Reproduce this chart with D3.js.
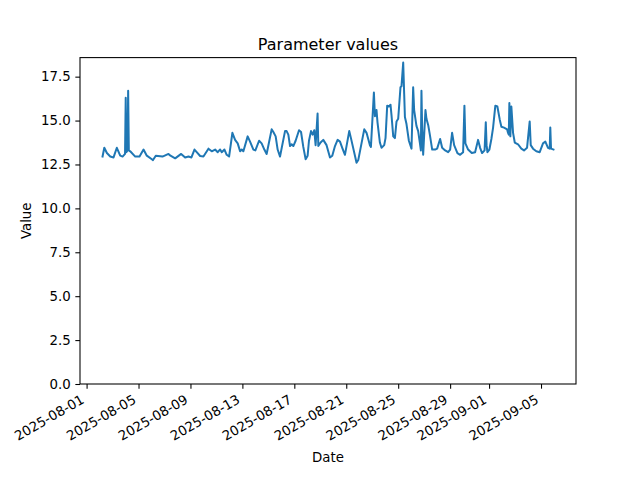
<!DOCTYPE html>
<html><head><meta charset="utf-8">
<script src="https://cdn.jsdelivr.net/npm/d3@7/dist/d3.min.js"></script>
<style>
html,body{margin:0;padding:0;background:#fff;}
svg text{font-family:"DejaVu Sans",sans-serif;fill:#000;}
</style></head>
<body><svg id="chart" width="640" height="480"></svg>
<script>
const timestamps = [
"2025-08-02 05:30","2025-08-02 08:45","2025-08-02 13:30","2025-08-02 19:45","2025-08-03 01:50","2025-08-03 07:55","2025-08-03 14:10","2025-08-03 18:30","2025-08-03 23:05",
"2025-08-04 00:20","2025-08-04 01:30","2025-08-04 03:40","2025-08-04 04:50","2025-08-04 06:05","2025-08-04 08:40","2025-08-04 17:55","2025-08-05 01:50","2025-08-05 09:15","2025-08-05 15:20",
"2025-08-06 00:35","2025-08-06 02:45","2025-08-06 07:55","2025-08-06 20:20","2025-08-07 07:25","2025-08-07 11:05","2025-08-07 19:45","2025-08-08 06:50","2025-08-08 14:10","2025-08-08 20:20",
"2025-08-09 01:50","2025-08-09 07:25","2025-08-09 11:35","2025-08-09 17:55","2025-08-10 00:00","2025-08-10 09:15","2025-08-10 15:20","2025-08-10 21:35","2025-08-11 02:25","2025-08-11 06:50",
"2025-08-11 09:50","2025-08-11 14:50","2025-08-11 19:00","2025-08-11 23:25","2025-08-12 05:30","2025-08-12 10:30","2025-08-12 15:20","2025-08-12 19:45","2025-08-12 22:45","2025-08-13 01:50",
"2025-08-13 09:45","2025-08-13 14:10","2025-08-13 20:20","2025-08-14 00:00","2025-08-14 06:50","2025-08-14 11:35","2025-08-14 16:35","2025-08-14 20:50","2025-08-15 06:05","2025-08-15 09:15",
"2025-08-15 13:30","2025-08-15 17:10","2025-08-15 21:35","2025-08-16 06:50","2025-08-16 09:45","2025-08-16 12:55","2025-08-16 16:05","2025-08-16 19:00","2025-08-16 22:10","2025-08-17 02:25",
"2025-08-17 08:40","2025-08-17 12:25","2025-08-17 16:35","2025-08-17 20:55","2025-08-18 00:35","2025-08-18 03:05","2025-08-18 06:50","2025-08-18 09:50","2025-08-18 12:55","2025-08-18 15:20",
"2025-08-18 19:00","2025-08-18 20:20","2025-08-19 00:35","2025-08-19 05:30","2025-08-19 11:35","2025-08-19 17:55","2025-08-19 22:10","2025-08-20 03:10","2025-08-20 08:00","2025-08-20 12:25",
"2025-08-20 16:35","2025-08-20 21:35","2025-08-21 05:30","2025-08-21 08:40","2025-08-21 19:00","2025-08-21 22:10","2025-08-22 09:15","2025-08-22 13:30","2025-08-22 19:45","2025-08-22 21:35",
"2025-08-23 03:05","2025-08-23 05:00","2025-08-23 07:55","2025-08-23 09:45","2025-08-23 14:10","2025-08-23 17:10","2025-08-23 22:10","2025-08-24 00:35","2025-08-24 03:40","2025-08-24 06:50",
"2025-08-24 09:50","2025-08-24 11:40","2025-08-24 14:50","2025-08-24 17:55","2025-08-24 20:55","2025-08-25 00:00","2025-08-25 04:15","2025-08-25 06:05","2025-08-25 09:15","2025-08-25 11:05",
"2025-08-25 12:25","2025-08-25 15:20","2025-08-25 19:45","2025-08-26 00:35","2025-08-26 03:40","2025-08-26 05:30","2025-08-26 09:45","2025-08-26 12:55","2025-08-26 16:00","2025-08-26 17:55",
"2025-08-26 19:00","2025-08-26 20:20","2025-08-26 22:10","2025-08-27 02:25","2025-08-27 04:15","2025-08-27 07:25","2025-08-27 10:30","2025-08-27 14:50","2025-08-27 20:20","2025-08-28 00:00",
"2025-08-28 05:30","2025-08-28 09:15","2025-08-28 14:50","2025-08-28 20:20","2025-08-29 00:00","2025-08-29 03:40","2025-08-29 07:25","2025-08-29 13:30","2025-08-29 18:30","2025-08-30 00:00",
"2025-08-30 02:25","2025-08-30 04:15","2025-08-30 09:15","2025-08-30 16:00","2025-08-30 22:10","2025-08-31 03:40","2025-08-31 07:25","2025-08-31 11:05","2025-08-31 15:40","2025-08-31 17:55",
"2025-08-31 19:25","2025-08-31 20:55","2025-09-01 00:35","2025-09-01 04:15","2025-09-01 07:25","2025-09-01 11:35","2025-09-01 15:20","2025-09-01 19:45","2025-09-01 22:45","2025-09-02 03:40",
"2025-09-02 09:15","2025-09-02 11:05","2025-09-02 12:25","2025-09-02 13:30","2025-09-02 15:20","2025-09-02 17:10","2025-09-02 20:20","2025-09-02 23:30","2025-09-03 05:30","2025-09-03 11:35",
"2025-09-03 16:35","2025-09-03 22:10","2025-09-04 03:05","2025-09-04 05:00","2025-09-04 09:15","2025-09-04 15:20","2025-09-04 21:35","2025-09-05 03:40","2025-09-05 08:00","2025-09-05 12:55",
"2025-09-05 16:05","2025-09-05 17:10","2025-09-05 18:30","2025-09-05 23:00"
];
const values = [
12.95,13.45,13.15,12.95,12.9,13.45,13.0,12.95,13.1,
16.3,13.2,13.3,16.7,13.3,13.25,12.95,12.95,13.35,13.0,
12.8,12.75,13.0,12.95,13.1,13.0,12.85,13.1,12.9,12.95,
12.9,13.35,13.2,12.98,12.95,13.4,13.25,13.35,13.2,13.35,
13.2,13.35,13.05,12.95,14.3,13.9,13.7,13.25,13.35,13.25,
14.1,13.8,13.35,13.3,13.85,13.7,13.35,13.1,14.5,14.35,
14.1,13.35,12.95,14.4,14.4,14.2,13.55,13.65,13.55,13.85,
14.45,14.35,13.5,12.8,13.0,13.85,14.4,14.2,14.45,13.6,
15.4,13.55,13.75,13.9,13.6,12.9,13.0,13.55,13.9,13.8,
13.45,13.05,14.4,14.0,12.6,12.75,14.5,14.3,13.6,13.5,
16.6,15.25,15.6,14.9,13.75,13.45,13.6,14.0,15.85,15.8,
15.9,15.3,14.1,14.0,14.95,15.1,16.9,16.95,18.3,16.5,
15.2,14.8,13.85,13.4,16.9,15.6,14.7,14.4,13.75,13.3,
16.7,14.5,13.05,15.6,15.1,14.75,14.2,13.35,13.35,13.4,
13.95,13.45,13.3,13.2,13.35,14.3,13.6,13.15,13.05,13.2,
15.85,13.7,13.35,13.15,13.2,13.9,13.45,13.15,13.3,14.9,
13.6,13.2,13.35,13.95,14.6,15.85,15.8,15.05,14.65,14.6,
14.5,14.3,14.2,16.0,14.1,15.8,14.3,13.75,13.65,13.4,
13.3,13.45,14.95,13.6,13.4,13.25,13.2,13.7,13.8,13.45,
13.4,14.6,13.4,13.35
];
const xTickDates = ["2025-08-01","2025-08-05","2025-08-09","2025-08-13","2025-08-17","2025-08-21","2025-08-25","2025-08-29","2025-09-01","2025-09-05"];
const yTickValues = [0,2.5,5,7.5,10,12.5,15,17.5];
const titleText = "Parameter values";
const xLabelText = "Date";
const yLabelText = "Value";

const parseTs = d3.timeParse("%Y-%m-%d %H:%M");
const parseDay = d3.timeParse("%Y-%m-%d");
const data = timestamps.map((t,i)=>({date: parseTs(t), value: values[i]}));

const svg = d3.select("#chart");
const L=80, R=576, T=57.6, B=384;

const [t0,t1] = d3.extent(data, d=>d.date);
const span = t1 - t0;
const x = d3.scaleTime().domain([new Date(+t0 - span*0.05), new Date(+t1 + span*0.05)]).range([L,R]);
const vmin = d3.min(values), vmax = d3.max(values);
const y = d3.scaleLinear().domain([0, vmax + 0.05*(vmax - vmin)]).range([B,T]);

const fmtDay = d3.timeFormat("%Y-%m-%d");

// line
svg.append("path").datum(data)
  .attr("fill","none").attr("stroke","#1f77b4").attr("stroke-width",2)
  .attr("stroke-linejoin","round").attr("stroke-linecap","square")
  .attr("d", d3.line().x(d=>x(d.date)).y(d=>y(d.value)));

// frame
svg.append("rect").attr("x",L).attr("y",T).attr("width",R-L).attr("height",B-T)
  .attr("fill","none").attr("stroke","#000").attr("stroke-width",1.07);

// x axis
const xAxis = d3.axisBottom(x).tickValues(xTickDates.map(parseDay)).tickFormat(fmtDay).tickSize(4.67).tickPadding(0);
const gx = svg.append("g").attr("transform",`translate(0,${B})`).call(xAxis);
gx.select(".domain").remove();
gx.selectAll(".tick line").attr("stroke","#000").attr("stroke-width",1.07);
gx.selectAll(".tick text")
  .attr("font-size","13.33px").attr("font-family","DejaVu Sans")
  .attr("text-anchor","end")
  .attr("dy","0.75em").attr("y",0).attr("x",0)
  .attr("transform","translate(-7,9.5) rotate(-30)");

// y axis
const yAxis = d3.axisLeft(y).tickValues(yTickValues).tickFormat(d3.format(".1f")).tickSize(4.67).tickPadding(4.67);
const gy = svg.append("g").attr("transform",`translate(${L},0)`).call(yAxis);
gy.select(".domain").remove();
gy.selectAll(".tick line").attr("stroke","#000").attr("stroke-width",1.07);
gy.selectAll(".tick text").attr("font-size","13.33px").attr("font-family","DejaVu Sans");

// title and labels
svg.append("text").attr("x",(L+R)/2).attr("y",T-8).attr("text-anchor","middle")
  .attr("font-size","16px").text(titleText);
svg.append("text").attr("x",(L+R)/2).attr("y",462).attr("text-anchor","middle")
  .attr("font-size","13.33px").text(xLabelText);
svg.append("text").attr("transform",`translate(31,${(T+B)/2}) rotate(-90)`).attr("text-anchor","middle")
  .attr("font-size","13.33px").text(yLabelText);
</script></body></html>
